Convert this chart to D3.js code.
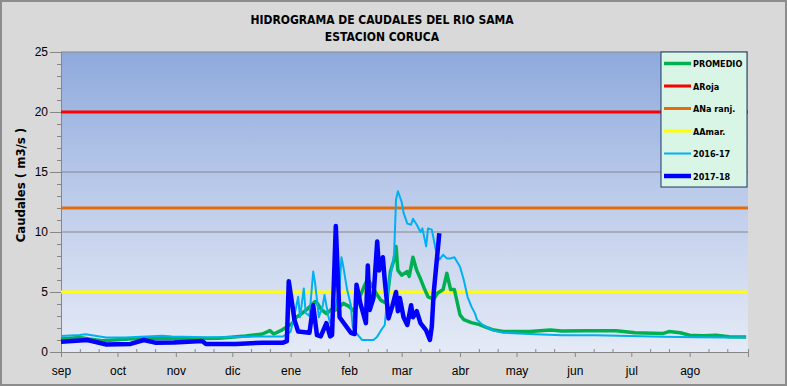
<!DOCTYPE html>
<html>
<head>
<meta charset="utf-8">
<script src="https://cdn.jsdelivr.net/npm/d3@7"></script>
<style>
  body { margin: 0; background: #fff; }
  svg { display: block; font-family: "Liberation Sans Narrow", "DejaVu Sans Condensed", "Liberation Sans", Arial, sans-serif; }
</style>
</head>
<body>
<div id="container"></div>
<script>
//---------------------
// DATA (day as MM-DD of the hydrological year sep..ago)
//---------------------

const months = ['sep', 'oct', 'nov', 'dic', 'ene', 'feb', 'mar', 'abr', 'may', 'jun', 'jul', 'ago'];
const yTicks = [0, 5, 10, 15, 20, 25];

const umbralNames = ['ARoja', 'ANa ranj.', 'AAmar.'];
const umbralValues = [20, 12, 5];

const promedio = [
  ['09-01', 1.08], ['09-11', 1.2], ['09-16', 1.08], ['09-23', 0.94], ['10-13', 1.14],
  ['11-03', 1.1], ['11-24', 1.14], ['12-08', 1.33], ['12-17', 1.5], ['12-21', 1.78],
  ['12-23', 1.5], ['12-27', 1.8], ['12-29', 2.0], ['01-02', 2.4], ['01-04', 2.9],
  ['01-06', 3.1], ['01-10', 3.6], ['01-14', 4.2], ['01-15', 4.1], ['01-17', 3.6],
  ['01-20', 3.2], ['01-23', 3.6], ['01-25', 3.5], ['01-29', 4.05], ['02-01', 3.8],
  ['02-04', 3.35], ['02-06', 4.3], ['02-09', 5.45], ['02-11', 6.1], ['02-14', 5.3],
  ['02-16', 4.75], ['02-18', 4.3], ['02-21', 4.05], ['02-23', 6.7], ['02-25', 7.7],
  ['02-26', 8.8], ['02-27', 6.8], ['03-01', 6.4], ['03-04', 6.7], ['03-05', 6.3],
  ['03-07', 7.9], ['03-09', 6.8], ['03-11', 6.1], ['03-13', 5.3], ['03-15', 4.6],
  ['03-18', 4.4], ['03-20', 4.9], ['03-23', 5.2], ['03-25', 6.55], ['03-27', 5.2],
  ['03-29', 5.2], ['04-01', 3.1], ['04-03', 2.7], ['04-07', 2.45], ['04-11', 2.3],
  ['04-15', 2.05], ['04-19', 1.83], ['04-24', 1.7], ['05-08', 1.7], ['05-19', 1.83],
  ['05-25', 1.75], ['06-07', 1.78], ['06-23', 1.78], ['07-03', 1.6], ['07-18', 1.55],
  ['07-21', 1.7], ['07-27', 1.6], ['08-01', 1.4], ['08-08', 1.35], ['08-15', 1.4],
  ['08-22', 1.28], ['08-31', 1.25]
];

const serie1617 = [
  ['09-01', 1.33], ['09-11', 1.42], ['09-14', 1.48], ['09-25', 1.2], ['10-05', 1.2],
  ['10-25', 1.35], ['10-30', 1.3], ['11-17', 1.22], ['12-05', 1.25], ['12-15', 1.3],
  ['12-28', 1.3], ['01-01', 1.7], ['01-04', 3.8], ['01-05', 4.6], ['01-06', 2.9],
  ['01-08', 5.3], ['01-09', 3.25], ['01-11', 3.0], ['01-13', 6.7], ['01-14', 5.75],
  ['01-16', 2.9], ['01-18', 3.8], ['01-19', 4.75], ['01-21', 3.0], ['01-22', 2.4],
  ['01-25', 3.8], ['01-27', 5.4], ['01-28', 7.9], ['01-29', 7.1], ['01-31', 5.2],
  ['02-02', 3.9], ['02-03', 2.1], ['02-05', 1.55], ['02-08', 1.0], ['02-14', 1.0],
  ['02-16', 1.28], ['02-18', 1.8], ['02-20', 2.25], ['02-22', 5.6], ['02-24', 7.1],
  ['02-25', 8.2], ['02-26', 12.7], ['02-27', 13.4], ['03-01', 12.5], ['03-02', 11.6],
  ['03-04', 10.7], ['03-06', 10.6], ['03-07', 11.1], ['03-09', 10.6], ['03-11', 10.0],
  ['03-12', 10.3], ['03-14', 8.8], ['03-15', 10.3], ['03-17', 10.2], ['03-19', 8.6],
  ['03-21', 7.7], ['03-23', 8.1], ['03-25', 7.8], ['03-27', 7.8], ['03-29', 7.9],
  ['04-01', 7.1], ['04-03', 6.0], ['04-05', 4.6], ['04-07', 3.8], ['04-09', 3.2],
  ['04-10', 2.7], ['04-13', 2.25], ['04-16', 2.0], ['04-19', 1.78], ['04-24', 1.6],
  ['05-08', 1.5], ['05-25', 1.4], ['06-12', 1.4], ['06-30', 1.33], ['07-18', 1.28],
  ['08-04', 1.22], ['08-22', 1.2], ['08-31', 1.22]
];

const serie1718 = [
  ['09-01', 0.86], ['09-15', 1.0], ['09-24', 0.67], ['09-25', 0.62], ['10-08', 0.67],
  ['10-15', 1.0], ['10-21', 0.78], ['10-31', 0.8], ['11-15', 0.92], ['11-17', 0.67],
  ['12-03', 0.67], ['12-17', 0.78], ['12-28', 0.78], ['12-30', 0.9], ['12-31', 5.9],
  ['01-02', 3.8], ['01-03', 2.7], ['01-05', 1.7], ['01-11', 1.6], ['01-13', 3.9],
  ['01-15', 1.4], ['01-17', 1.3], ['01-20', 2.4], ['01-22', 1.3], ['01-23', 1.4],
  ['01-25', 10.5], ['01-27', 2.9], ['01-30', 2.25], ['02-02', 1.6], ['02-04', 1.5],
  ['02-05', 5.6], ['02-07', 4.1], ['02-10', 2.4], ['02-11', 7.2], ['02-12', 3.5],
  ['02-14', 4.5], ['02-16', 9.2], ['02-17', 6.8], ['02-19', 7.9], ['02-20', 6.0],
  ['02-22', 2.8], ['02-24', 3.8], ['02-26', 5.0], ['02-27', 3.4], ['02-28', 4.5],
  ['03-02', 2.9], ['03-04', 2.25], ['03-06', 3.9], ['03-07', 2.9], ['03-09', 3.4],
  ['03-11', 2.4], ['03-14', 1.8], ['03-16', 1.0], ['03-17', 2.1], ['03-18', 4.9],
  ['03-21', 9.9]
];

const legendNames = ['PROMEDIO', 'ARoja', 'ANa ranj.', 'AAmar.', '2016-17', '2017-18'];

//---------------------
// SETUP
//---------------------

const W = 787, H = 386;
const margin = { left: 61, top: 52, right: 39, bottom: 34 };
const plotW = W - margin.left - margin.right;
const plotH = H - margin.top - margin.bottom;

const parseDay = s => {
  const m = +s.slice(0, 2), d = +s.slice(3, 5);
  return new Date(m >= 9 ? 2017 : 2018, m - 1, d);
};

const x = d3.scaleTime()
  .domain([new Date(2017, 8, 1), new Date(2018, 8, 1)])
  .range([0, plotW]);

const y = d3.scaleLinear()
  .domain([0, 25])
  .range([plotH, 0]);

const svg = d3.select('#container')
  .append('svg')
  .attr('width', W)
  .attr('height', H);

// chart background + frame
svg.append('rect')
  .attr('x', 1).attr('y', 1)
  .attr('width', W - 2).attr('height', H - 2)
  .attr('fill', '#d9d9d9')
  .attr('stroke', '#8c8c8c')
  .attr('stroke-width', 2);

const grad = svg.append('defs')
  .append('linearGradient')
  .attr('id', 'plotbg')
  .attr('x1', 0).attr('y1', 0).attr('x2', 0).attr('y2', 1);
grad.append('stop').attr('offset', '0%').attr('stop-color', '#8eaadc');
grad.append('stop').attr('offset', '55%').attr('stop-color', '#c3d0ec');
grad.append('stop').attr('offset', '100%').attr('stop-color', '#e4eaf6');

// title
svg.append('text')
  .attr('x', 382).attr('y', 24)
  .attr('text-anchor', 'middle')
  .attr('font-size', 12).attr('font-weight', 'bold')
  .text('HIDROGRAMA DE CAUDALES DEL RIO SAMA');
svg.append('text')
  .attr('x', 382).attr('y', 41)
  .attr('text-anchor', 'middle')
  .attr('font-size', 12).attr('font-weight', 'bold')
  .text('ESTACION CORUCA');

// y label
svg.append('text')
  .attr('transform', 'translate(25, 185) rotate(-90)')
  .attr('text-anchor', 'middle')
  .attr('font-size', 13).attr('font-weight', 'bold')
  .text('Caudales ( m3/s )');

const g = svg.append('g')
  .attr('transform', `translate(${margin.left}, ${margin.top})`);

g.append('rect')
  .attr('width', plotW).attr('height', plotH)
  .attr('fill', 'url(#plotbg)');

// gridlines
g.append('g')
  .selectAll('line')
  .data(yTicks.slice(1))
  .enter()
  .append('line')
  .attr('x1', 0).attr('x2', plotW)
  .attr('y1', d => y(d)).attr('y2', d => y(d))
  .attr('stroke', '#868686').attr('stroke-width', 1);

//---------------------
// AXES
//---------------------

const yMinor = g.append('g')
  .call(d3.axisLeft(y).tickValues(d3.range(0, 26)).tickSize(4).tickFormat(''));
const yAxis = g.append('g')
  .call(d3.axisLeft(y).tickValues(yTicks).tickSize(11).tickPadding(2));
yAxis.selectAll('text').attr('font-size', 12).attr('fill', '#000');

const monthStarts = d3.range(0, 13).map(i => new Date(2017, 8 + i, 1));
const minorDays = d3.cross(monthStarts.slice(0, 12), [11, 21],
  (m, d) => new Date(m.getFullYear(), m.getMonth(), d));

const xMinor = g.append('g')
  .attr('transform', `translate(0, ${plotH})`)
  .call(d3.axisTop(x).tickValues(minorDays).tickSize(3).tickFormat(''));
const xAxis = g.append('g')
  .attr('transform', `translate(0, ${plotH})`)
  .call(d3.axisBottom(x).tickValues(monthStarts).tickSize(5).tickPadding(9)
    .tickFormat((d, i) => months[i] || ''));
xAxis.selectAll('text').attr('font-size', 12).attr('fill', '#000');

[yMinor, yAxis, xMinor, xAxis].forEach(a => {
  a.selectAll('line').attr('stroke', '#868686');
  a.select('.domain').attr('stroke', '#868686');
});

//---------------------
// LINES
//---------------------

const line = d3.line()
  .x(d => x(parseDay(d[0])))
  .y(d => y(d[1]));

const colors = {
  prom: '#00b050', roja: '#ff0000', nar: '#e46c0a', amar: '#ffff00',
  s1617: '#00b0f0', s1718: '#0000ff'
};

const umbralColors = [colors.roja, colors.nar, colors.amar];
g.append('g')
  .selectAll('line')
  .data(umbralValues)
  .enter()
  .append('line')
  .attr('x1', 0).attr('x2', plotW)
  .attr('y1', d => y(d)).attr('y2', d => y(d))
  .attr('stroke', (d, i) => umbralColors[i])
  .attr('stroke-width', 3);

const series = [
  { data: promedio, color: colors.prom, w: 3.5 },
  { data: serie1617, color: colors.s1617, w: 2 },
  { data: serie1718, color: colors.s1718, w: 4.5 }
];

g.append('g')
  .selectAll('path')
  .data(series)
  .enter()
  .append('path')
  .attr('d', d => line(d.data))
  .attr('fill', 'none')
  .attr('stroke', d => d.color)
  .attr('stroke-width', d => d.w)
  .attr('stroke-linejoin', 'round');

//---------------------
// LEGEND
//---------------------

const legend = svg.append('g')
  .attr('transform', 'translate(661, 52)');

legend.append('rect')
  .attr('width', 86).attr('height', 135)
  .attr('fill', '#d8f5e6')
  .attr('stroke', '#1f3864')
  .attr('stroke-width', 1);

const legendColors = [colors.prom, colors.roja, colors.nar, colors.amar, colors.s1617, colors.s1718];
const legendWidths = [3.5, 3, 3, 3, 2, 4.5];

const item = legend.selectAll('.item')
  .data(legendNames)
  .enter()
  .append('g')
  .attr('transform', (d, i) => `translate(0, ${11.5 + i * 22.5})`);

item.append('line')
  .attr('x1', 3).attr('x2', 30)
  .attr('stroke', (d, i) => legendColors[i])
  .attr('stroke-width', (d, i) => legendWidths[i]);

item.append('text')
  .attr('x', 32).attr('y', 3.5)
  .attr('font-size', 9).attr('font-weight', 'bold')
  .text(d => d);
</script>
</body>
</html>
